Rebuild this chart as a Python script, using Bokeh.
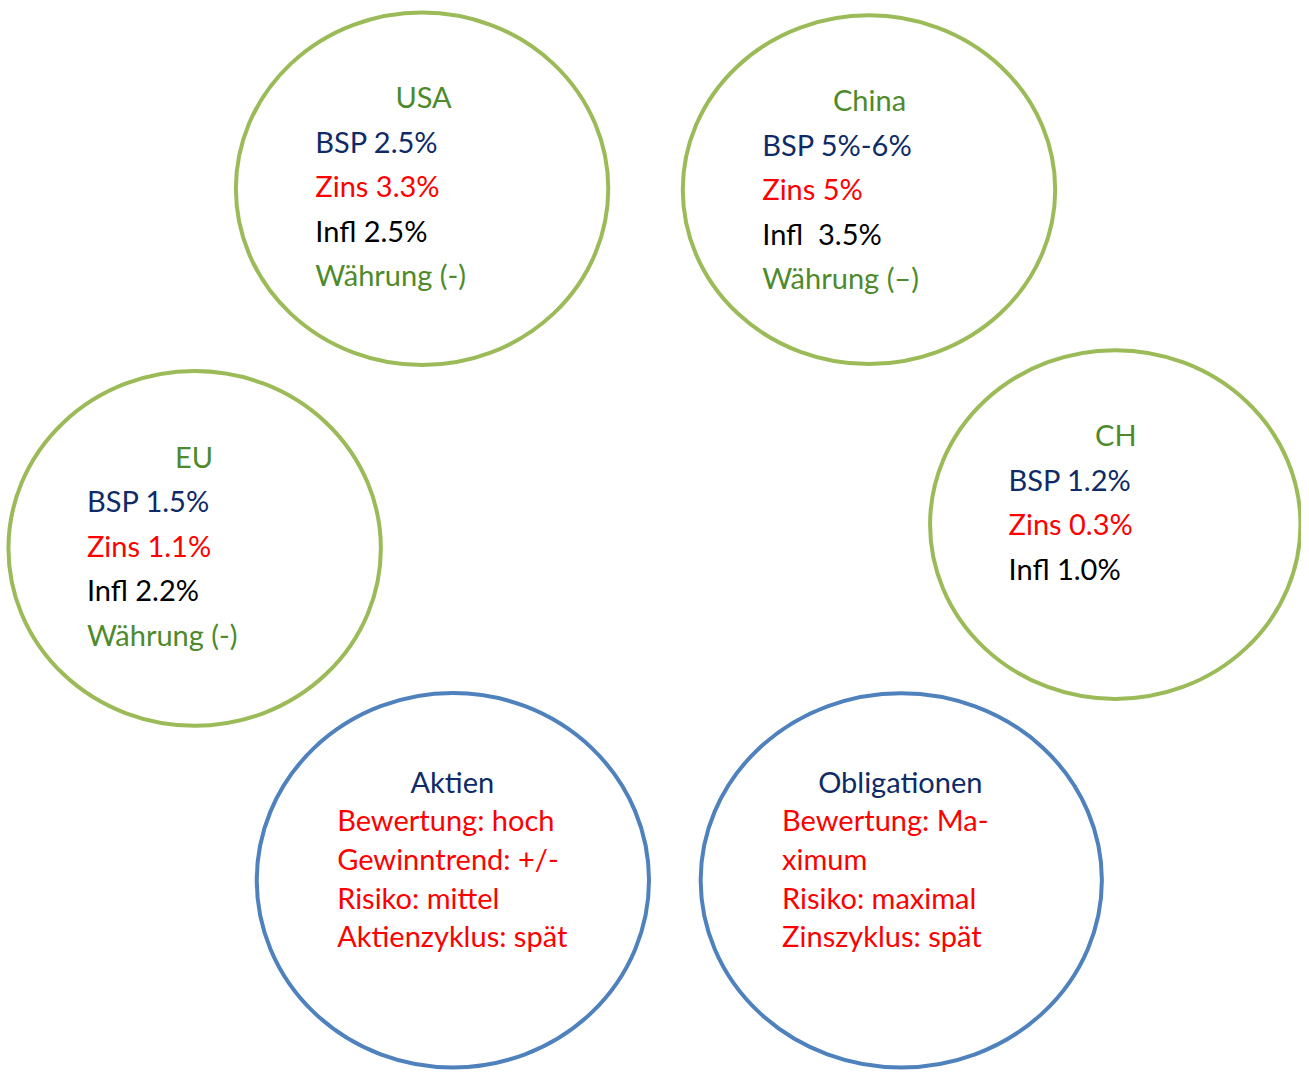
from bokeh.plotting import figure
from bokeh.models import Range1d, ColumnDataSource
from bokeh.core.properties import value
from bokeh.embed import file_html
from bokeh.resources import INLINE

# ---- data ----
regions = ["USA", "China", "EU", "CH"]
bsp = ["BSP 2.5%", "BSP 5%-6%", "BSP 1.5%", "BSP 1.2%"]
zins = ["Zins 3.3%", "Zins 5%", "Zins 1.1%", "Zins 0.3%"]
infl = ["Infl 2.5%", "Infl\u00a0 3.5%", "Infl 2.2%", "Infl 1.0%"]
waehrung = ["Währung (-)", "Währung (–)", "Währung (-)", ""]
assets = ["Aktien", "Obligationen"]
aktien_lines = ["Bewertung: hoch", "Gewinntrend: +/-", "Risiko: mittel", "Aktienzyklus: spät"]
oblig_lines = ["Bewertung: Ma-", "ximum", "Risiko: maximal", "Zinszyklus: spät"]

# ---- layout (pixel coordinates of the reference picture) ----
reg_cx = [424.5, 874.5, 195.5, 1122.5]
reg_cy = [190, 191, 553, 529]
reg_w = [375, 375, 375, 373]
reg_h = [356, 352, 358, 352]
reg_tx = [426, 875, 195, 1123]
reg_ty = [107, 110, 470, 448]
reg_lx = [317, 767, 87, 1015]
reg_ly = [152, 155, 515, 493]
reg_step = 45

ast_cx = [455.5, 907]
ast_cy = [888, 888]
ast_w = [395, 404]
ast_h = [378, 378]
ast_tx = [455, 906]
ast_ty = [798, 798]
ast_lx = [339, 787]
ast_ly = [837, 837]
ast_step = 39

TEXT_DY = -10

GREEN_LINE = "#9BBB59"
BLUE_LINE = "#4F81BD"
GREEN_TXT = "#4E8A2B"
NAVY = "#0E2A67"
RED = "#FF0000"
BLACK = "#000000"
FONT = value("Lato")
FS = "29px"

p = figure(width=1301, height=1071, output_backend="svg", toolbar_location=None,
           x_range=Range1d(0, 1310), y_range=Range1d(1081, 0),
           min_border=0, outline_line_color=None, background_fill_color="white",
           border_fill_color="white")
p.axis.visible = False
p.grid.visible = False

p.ellipse(x=reg_cx, y=reg_cy, width=reg_w, height=reg_h, fill_color=None,
          line_color=GREEN_LINE, line_width=4)
p.ellipse(x=ast_cx, y=ast_cy, width=ast_w, height=ast_h, fill_color=None,
          line_color=BLUE_LINE, line_width=4)

def txt(xs, ys, texts, color, align="left"):
    src = ColumnDataSource(dict(x=xs, y=[y + TEXT_DY for y in ys], t=texts))
    p.text(x="x", y="y", text="t", source=src, text_color=color, text_font=FONT,
           text_font_size=FS, text_align=align, text_baseline="alphabetic")

txt(reg_tx, reg_ty, regions, GREEN_TXT, "center")
txt(reg_lx, reg_ly, bsp, NAVY)
txt(reg_lx, [y + reg_step for y in reg_ly], zins, RED)
txt(reg_lx, [y + 2 * reg_step for y in reg_ly], infl, BLACK)
txt(reg_lx, [y + 3 * reg_step for y in reg_ly], waehrung, GREEN_TXT)

txt(ast_tx, ast_ty, assets, NAVY, "center")
for lines, lx, ly in ((aktien_lines, ast_lx[0], ast_ly[0]), (oblig_lines, ast_lx[1], ast_ly[1])):
    txt([lx] * len(lines), [ly + i * ast_step for i in range(len(lines))], lines, RED)

open("out.html", "w").write(file_html(p, INLINE))
